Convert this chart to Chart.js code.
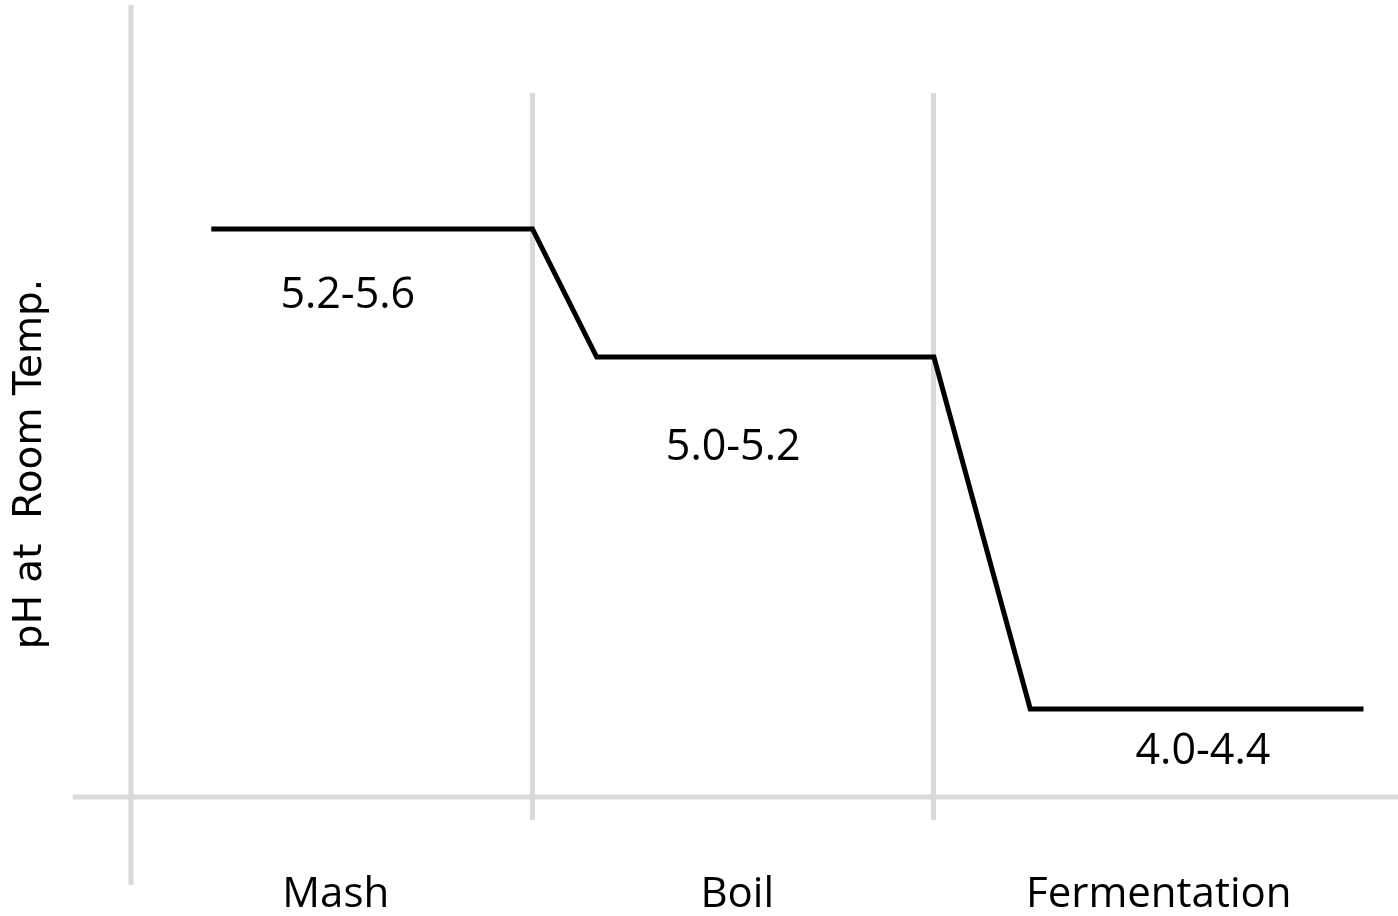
<!DOCTYPE html>
<html>
<head>
<meta charset="utf-8">
<script src="https://cdn.jsdelivr.net/npm/chart.js@4.4.1/dist/chart.umd.min.js"></script>
<style>
  html, body { margin: 0; padding: 0; background: #fff; }
  #wrap { width: 1398px; height: 916px; }
</style>
</head>
<body>
<div id="wrap"><canvas id="chart"></canvas></div>
<script>
// stages along the process, and where their names sit on the x scale
const stages = ['Mash', 'Boil', 'Fermentation'];
const stageAt = [0.51, 1.51, 2.56];
const dividers = [1, 2];

// pH trace (x in stage units, y in pH)
const lineX = [0.2, 1.0, 1.16, 2.0, 2.24, 3.07];
const lineY = [5.4, 5.4, 5.08, 5.08, 4.2, 4.2];

// range labels under each flat part
const ranges = ['5.2-5.6', '5.0-5.2', '4.0-4.4'];
const rangeX = [0.54, 1.5, 2.67];
const rangeY = [5.232, 4.852, 4.092];

const GRID = '#d9d9d9';
const LABEL_FONT = '"Open Sans", sans-serif';

const extras = {
  id: 'extras',
  beforeDatasetsDraw(chart) {
    const { ctx, scales: { x, y } } = chart;
    ctx.save();
    ctx.strokeStyle = GRID;
    ctx.lineWidth = 5;
    // axis lines run past the plot area, like in the original drawing
    const x0 = x.getPixelForValue(0);
    ctx.beginPath();
    ctx.moveTo(x0, y.getPixelForValue(5.96));
    ctx.lineTo(x0, y.getPixelForValue(3.76));
    ctx.moveTo(x.getPixelForValue(-0.145), y.bottom);
    ctx.lineTo(chart.width, y.bottom);
    ctx.stroke();
    ctx.restore();
  },
  afterDatasetsDraw(chart) {
    const { ctx, scales: { x, y } } = chart;
    ctx.save();
    ctx.fillStyle = '#000';
    ctx.textAlign = 'center';
    ctx.textBaseline = 'middle';
    ctx.font = '43px ' + LABEL_FONT;
    ranges.forEach((t, i) => {
      ctx.fillText(t, x.getPixelForValue(rangeX[i]), y.getPixelForValue(rangeY[i]));
    });
    // y title
    ctx.translate(31, 464);
    ctx.rotate(-Math.PI / 2);
    ctx.font = '39px "DejaVu Sans"';
    ctx.fillText('pH at  Room Temp.', 0, 0);
    ctx.restore();
  }
};

new Chart(document.getElementById('chart'), {
  type: 'line',
  data: {
    datasets: [{
      data: lineX.map((v, i) => ({ x: v, y: lineY[i] })),
      borderColor: '#000',
      borderWidth: 5,
      pointRadius: 0,
      tension: 0,
      fill: false,
      clip: false,
    }],
  },
  options: {
    responsive: true,
    maintainAspectRatio: false,
    animation: false,
    layout: { padding: { top: 93 } },
    plugins: {
      legend: { display: false },
      tooltip: { enabled: false },
    },
    scales: {
      x: {
        type: 'linear',
        min: 0,
        max: 3.156,
        afterFit: s => { s.height = 119; },
        afterBuildTicks: s => {
          s.ticks = [...dividers, ...stageAt].sort((a, b) => a - b).map(v => ({ value: v }));
        },
        ticks: {
          autoSkip: false,
          maxRotation: 0,
          padding: 50,
          color: '#000',
          font: { family: LABEL_FONT, size: 42 },
          callback: v => {
            const i = stageAt.indexOf(v);
            return i < 0 ? '' : stages[i];
          },
        },
        grid: {
          color: c => (c.tick && dividers.includes(c.tick.value) ? GRID : 'rgba(0,0,0,0)'),
          lineWidth: 5,
          tickLength: 23,
        },
        border: { display: false },
      },
      y: {
        min: 3.98,
        max: 5.74,
        afterFit: s => { s.width = 131; },
        ticks: { display: false },
        grid: { display: false },
        border: { display: false },
      },
    },
  },
  plugins: [extras],
});
</script>
</body>
</html>
